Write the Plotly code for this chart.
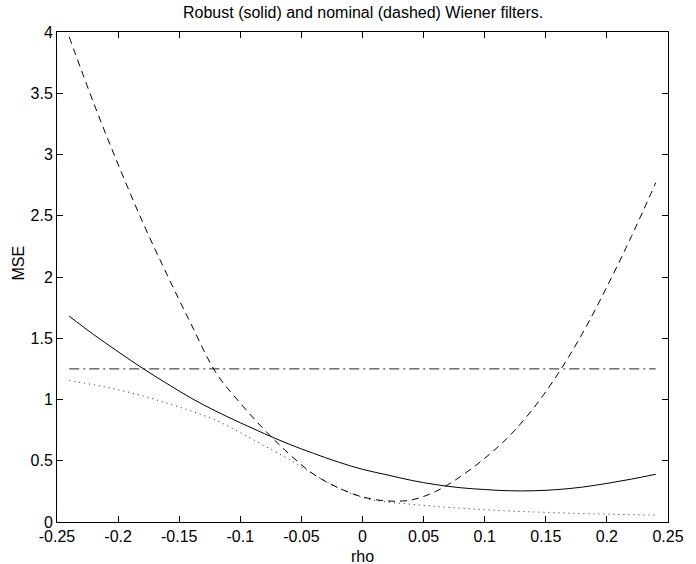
import plotly.graph_objects as go

rho = [-0.24, -0.22, -0.20, -0.18, -0.16, -0.14, -0.12, -0.10, -0.08, -0.06, -0.04, -0.02,
       0.00, 0.02, 0.04, 0.06, 0.08, 0.10, 0.12, 0.14, 0.16, 0.18, 0.20, 0.22, 0.24]

robust_mse = [1.68, 1.53, 1.39, 1.255, 1.13, 1.01, 0.905, 0.81, 0.72, 0.635, 0.56, 0.49,
              0.43, 0.385, 0.34, 0.305, 0.28, 0.265, 0.255, 0.255, 0.265, 0.285, 0.315, 0.35, 0.39]

nominal_mse = [3.96, 3.42, 2.92, 2.45, 2.02, 1.61, 1.22, 0.97, 0.75, 0.555, 0.39, 0.28,
               0.205, 0.172, 0.18, 0.25, 0.37, 0.52, 0.70, 0.93, 1.21, 1.54, 1.92, 2.33, 2.77]

bound_mse = [1.25] * len(rho)

optimal_mse = [1.155, 1.12, 1.08, 1.03, 0.97, 0.905, 0.83, 0.73, 0.62, 0.51, 0.39, 0.28,
               0.20, 0.163, 0.145, 0.127, 0.113, 0.10, 0.09, 0.082, 0.075, 0.069, 0.064, 0.06, 0.056]

x_ticks = [-0.25, -0.2, -0.15, -0.1, -0.05, 0, 0.05, 0.1, 0.15, 0.2, 0.25]
x_labels = ["-0.25", "-0.2", "-0.15", "-0.1", "-0.05", "0", "0.05", "0.1", "0.15", "0.2", "0.25"]
y_ticks = [0, 0.5, 1, 1.5, 2, 2.5, 3, 3.5, 4]
y_labels = ["0", "0.5", "1", "1.5", "2", "2.5", "3", "3.5", "4"]

FONT = "Liberation Sans, Arial, Helvetica, sans-serif"

fig = go.Figure()
fig.add_trace(go.Scatter(x=rho, y=bound_mse, mode="lines",
                         line=dict(color="#222", width=1, dash="10px,4px,2px,4px")))
fig.add_trace(go.Scatter(x=rho, y=optimal_mse, mode="lines",
                         line=dict(color="#222", width=1, dash="1px,4px", shape="spline")))
fig.add_trace(go.Scatter(x=rho, y=nominal_mse, mode="lines",
                         line=dict(color="black", width=1, dash="7px,5px", shape="spline")))
fig.add_trace(go.Scatter(x=rho, y=robust_mse, mode="lines",
                         line=dict(color="black", width=1, shape="spline")))

axis_common = dict(showline=True, linecolor="black", linewidth=1, mirror="ticks",
                   ticks="inside", ticklen=6, tickcolor="black", tickwidth=1,
                   showgrid=False, zeroline=False,
                   tickfont=dict(family=FONT, size=16, color="black"))

fig.update_xaxes(range=[-0.25, 0.25], tickvals=x_ticks, ticktext=x_labels, **axis_common)
fig.update_yaxes(range=[0, 4], tickvals=y_ticks, ticktext=y_labels, **axis_common)

fig.update_layout(
    width=696, height=564,
    margin=dict(l=57, r=17, t=32, b=42),
    paper_bgcolor="white", plot_bgcolor="white",
    showlegend=False,
    font=dict(family=FONT, size=16, color="black"),
    annotations=[
        dict(text="Robust (solid) and nominal (dashed) Wiener filters.", xref="paper", yref="paper",
             x=0.5, y=1, yshift=20, xanchor="center", yanchor="middle", showarrow=False,
             font=dict(family=FONT, size=16, color="black")),
        dict(text="rho", xref="paper", yref="paper", x=0.5, y=0, yshift=-34,
             xanchor="center", yanchor="middle", showarrow=False,
             font=dict(family=FONT, size=16, color="black")),
        dict(text="MSE", xref="paper", yref="y", x=0, y=2.11, xshift=-38,
             xanchor="center", yanchor="middle", textangle=-90, showarrow=False,
             font=dict(family=FONT, size=16, color="black")),
    ],
)

fig.write_html("out.html", config={"displayModeBar": False},
               post_script="document.body.style.margin='0';document.body.style.overflow='hidden';")
